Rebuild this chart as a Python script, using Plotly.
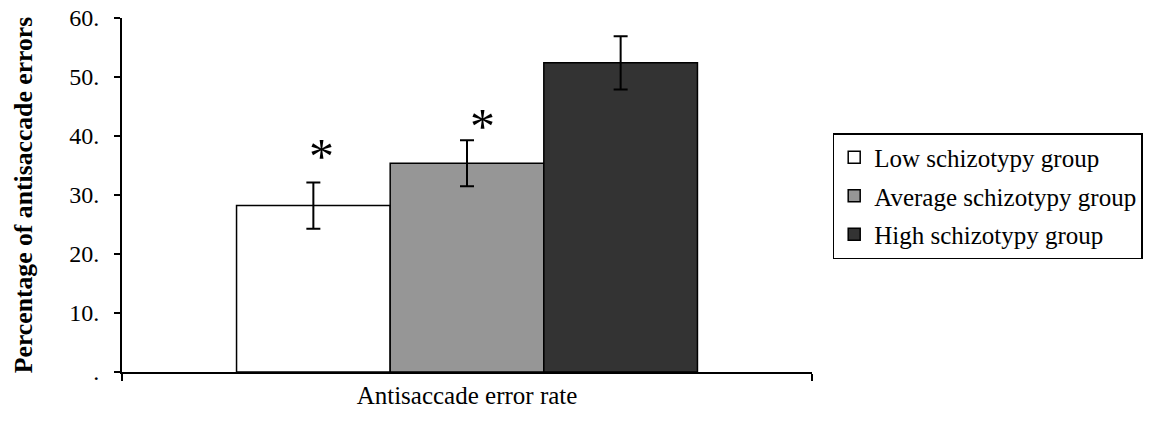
import plotly.graph_objects as go

# ---- data ----
category = ["Antisaccade error rate"]
groups = ["Low schizotypy group", "Average schizotypy group", "High schizotypy group"]
means = [28.2, 35.4, 52.4]
errors = [3.9, 3.9, 4.5]
colors = ["#ffffff", "#969696", "#333333"]
sig_marks = ["*", "*", ""]
sig_y = [37.6, 42.7, None]
y_tickvals = [0, 10, 20, 30, 40, 50, 60]
y_ticktext = [".", "10.", "20.", "30.", "40.", "50.", "60."]

FONT = "Liberation Serif, Times New Roman, serif"
BARGAP = 0.332

fig = go.Figure()
for i, g in enumerate(groups):
    fig.add_trace(go.Bar(
        x=category, y=[means[i]], name=g, legendgroup=g,
        marker=dict(color=colors[i], line=dict(color="black", width=1.5)),
        error_y=dict(type="data", array=[errors[i]], visible=True,
                     color="black", thickness=2, width=7),
    ))

# significance asterisks above the relevant bars
n = len(groups)
slot = (1 - BARGAP) / n
for i, (m, yy) in enumerate(zip(sig_marks, sig_y)):
    if not m:
        continue
    xc = -(1 - BARGAP) / 2 + slot * (i + 0.5)
    fig.add_annotation(x=xc, y=yy, xref="x", yref="y", text=m, showarrow=False,
                       xshift=8 + 7 * i, yshift=-6,
                       font=dict(family=FONT, size=50, color="black"))

fig.update_layout(
    width=1155, height=423,
    margin=dict(l=122, r=343, t=18, b=51, autoexpand=False),
    paper_bgcolor="white", plot_bgcolor="white",
    barmode="group", bargap=BARGAP, bargroupgap=0,
    font=dict(family=FONT, color="black", size=24),
    showlegend=True,
    legend=dict(x=1.03, y=0.675, xanchor="left", yanchor="top",
                bordercolor="black", borderwidth=1.5,
                font=dict(family=FONT, size=25, color="black"),
                tracegroupgap=3, itemclick=False),
)
fig.update_xaxes(type="category", range=[-0.5, 0.5], tickson="boundaries",
                 showline=True, linecolor="black", linewidth=2,
                 ticks="outside", ticklen=7, tickwidth=2, tickcolor="black",
                 tickfont=dict(family=FONT, size=25, color="black"),
                 showgrid=False, zeroline=False, automargin=False)
fig.update_yaxes(range=[0, 60], tickvals=y_tickvals, ticktext=y_ticktext,
                 showline=True, linecolor="black", linewidth=2,
                 ticks="outside", ticklen=6, tickwidth=2, tickcolor="black",
                 tickfont=dict(family=FONT, size=24, color="black"),
                 ticklabelstandoff=10,
                 showgrid=False, zeroline=False, automargin=False,
                 title=dict(text="<b>Percentage of antisaccade errors</b>",
                            font=dict(family=FONT, size=25.7, color="black"),
                            standoff=29))

fig.write_html("out.html")
